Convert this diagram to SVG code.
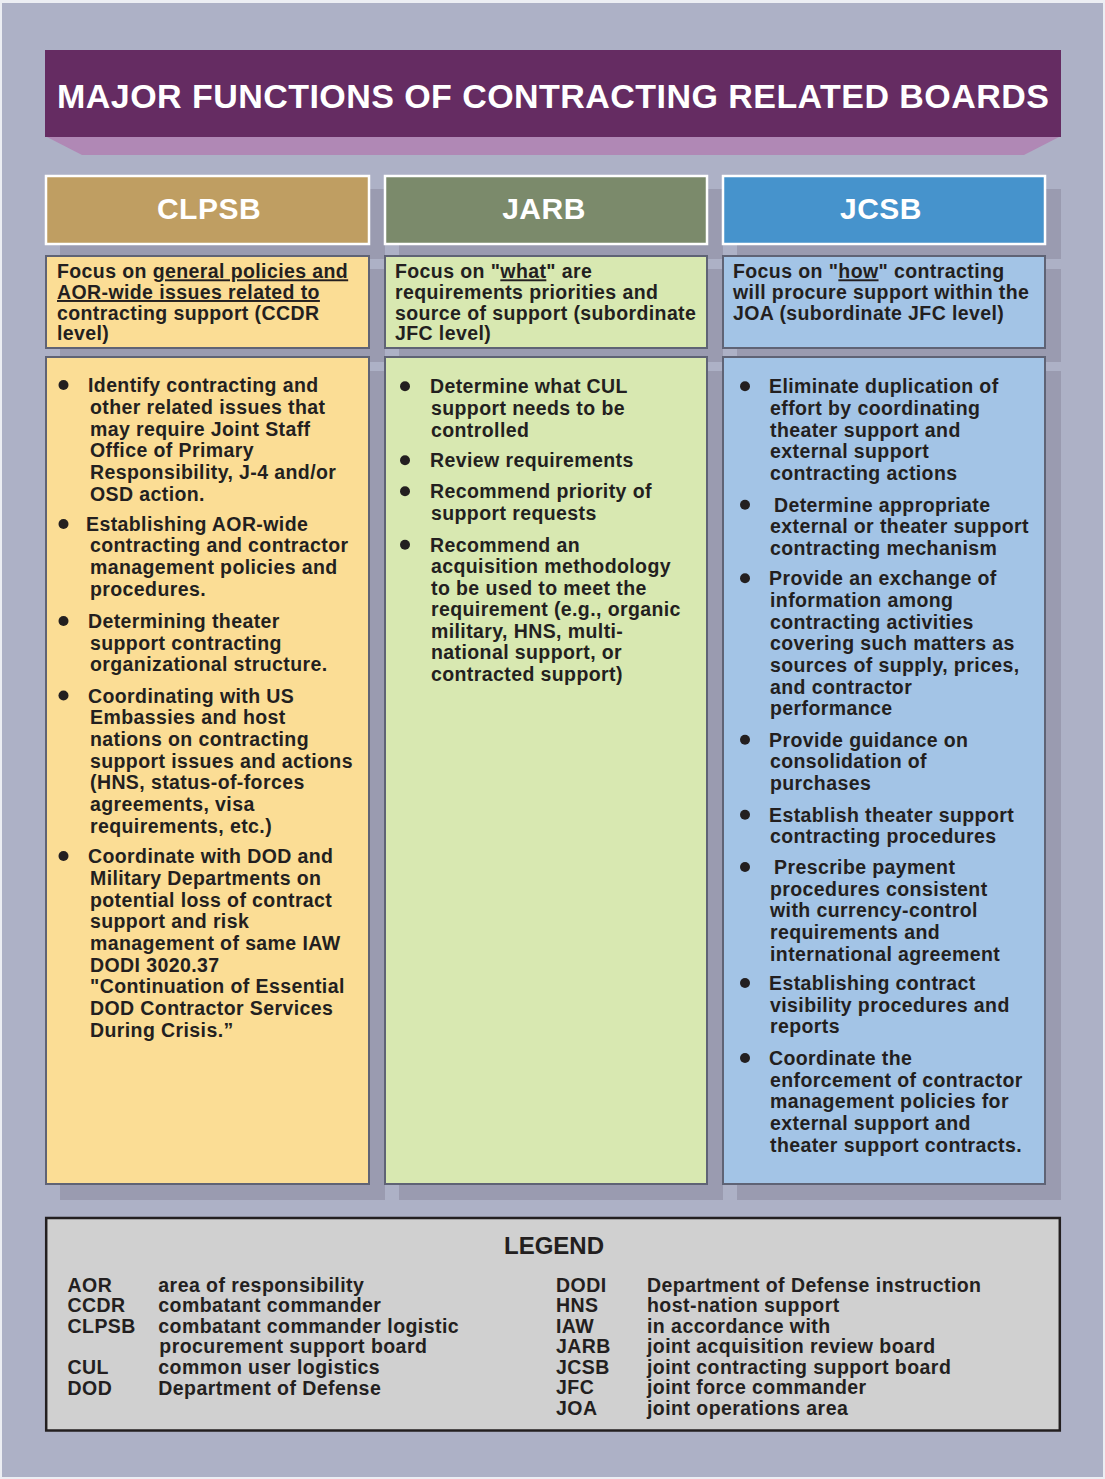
<svg xmlns="http://www.w3.org/2000/svg" width="1105" height="1479" viewBox="0 0 1105 1479">
<style>
text{font-family:"Liberation Sans",Arial,sans-serif;font-weight:bold;fill:#231f20}
.t{font-size:19.5px;letter-spacing:0.4px}
.lg{font-size:19.5px;letter-spacing:0.45px}
.hd{font-size:30px;fill:#fff;text-anchor:middle;letter-spacing:0.5px}
.sh{fill:#9a9bb0}
.bx{stroke:#5f6375;stroke-width:2}
.y{fill:#fbdd95}.g{fill:#d8e8b1}.bl{fill:#a3c4e6}
.b{fill:#231f20}
.u{text-decoration:underline}
</style>
<rect x="0" y="0" width="1105" height="1479" fill="#eceef3"/>
<rect x="2" y="3" width="1101" height="1474" fill="#adb1c6"/>

<g id="title">
<polygon points="45,136 1061,136 1024,155 82,155" fill="#b088b5"/>
<rect x="45" y="50" width="1016" height="87" fill="#652c62"/>
<text x="57" y="107.7" style="font-size:34px;fill:#fff;letter-spacing:0.45px">MAJOR FUNCTIONS OF CONTRACTING RELATED BOARDS</text>
</g>

<g id="shadows">
<rect class="sh" x="60" y="189" width="325" height="70"/>
<rect class="sh" x="399" y="189" width="324" height="70"/>
<rect class="sh" x="737" y="189" width="324" height="70"/>
<rect class="sh" x="60" y="269" width="325" height="93"/>
<rect class="sh" x="399" y="269" width="324" height="93"/>
<rect class="sh" x="737" y="269" width="324" height="93"/>
<rect class="sh" x="60" y="371" width="325" height="829"/>
<rect class="sh" x="399" y="371" width="324" height="829"/>
<rect class="sh" x="737" y="371" width="324" height="829"/>
</g>

<g id="clpsb-header">
<rect x="46" y="176" width="323" height="68" fill="#bf9e62" stroke="#fff" stroke-width="2.5"/>
<text class="hd" x="209" y="218.5">CLPSB</text>
</g>
<g id="jarb-header">
<rect x="385" y="176" width="322" height="68" fill="#7b8a6b" stroke="#fff" stroke-width="2.5"/>
<text class="hd" x="544" y="218.5">JARB</text>
</g>
<g id="jcsb-header">
<rect x="723" y="176" width="322" height="68" fill="#4693cc" stroke="#fff" stroke-width="2.5"/>
<text class="hd" x="881" y="218.5">JCSB</text>
</g>

<g id="clpsb-focus">
<rect class="bx y" x="46" y="256" width="323" height="92"/>
<text class="t"><tspan x="57" y="278.3">Focus on <tspan class="u">general policies and</tspan></tspan><tspan x="57" y="299" class="u">AOR-wide issues related to</tspan><tspan x="57" y="319.7">contracting support (CCDR</tspan><tspan x="57" y="340.4">level)</tspan></text>
</g>
<g id="jarb-focus">
<rect class="bx g" x="385" y="256" width="322" height="92"/>
<text class="t"><tspan x="395" y="278.3">Focus on "<tspan class="u">what</tspan>" are</tspan><tspan x="395" y="299">requirements priorities and</tspan><tspan x="395" y="319.7">source of support (subordinate</tspan><tspan x="395" y="340.4">JFC level)</tspan></text>
</g>
<g id="jcsb-focus">
<rect class="bx bl" x="723" y="256" width="322" height="92"/>
<text class="t"><tspan x="733" y="278.3">Focus on "<tspan class="u">how</tspan>" contracting</tspan><tspan x="733" y="299">will procure support within the</tspan><tspan x="733" y="319.7">JOA (subordinate JFC level)</tspan></text>
</g>

<g id="clpsb-body">
<rect class="bx y" x="46" y="357" width="323" height="827"/>
<circle class="b" cx="63.5" cy="385" r="5"/>
<circle class="b" cx="63.5" cy="524" r="5"/>
<circle class="b" cx="63.5" cy="621" r="5"/>
<circle class="b" cx="63.5" cy="695.5" r="5"/>
<circle class="b" cx="63.5" cy="856" r="5"/>
<text class="t">
<tspan x="88" y="392.3">Identify contracting and</tspan>
<tspan x="90" y="414">other related issues that</tspan>
<tspan x="90" y="435.7">may require Joint Staff</tspan>
<tspan x="90" y="457.4">Office of Primary</tspan>
<tspan x="90" y="479">Responsibility, J-4 and/or</tspan>
<tspan x="90" y="500.7">OSD action.</tspan>
<tspan x="86" y="530.7">Establishing AOR-wide</tspan>
<tspan x="90" y="552.4">contracting and contractor</tspan>
<tspan x="90" y="574">management policies and</tspan>
<tspan x="90" y="595.7">procedures.</tspan>
<tspan x="88" y="628.3">Determining theater</tspan>
<tspan x="90" y="650">support contracting</tspan>
<tspan x="90" y="671.4">organizational structure.</tspan>
<tspan x="88" y="702.7">Coordinating with US</tspan>
<tspan x="90" y="724.4">Embassies and host</tspan>
<tspan x="90" y="746">nations on contracting</tspan>
<tspan x="90" y="767.7">support issues and actions</tspan>
<tspan x="90" y="789.4">(HNS, status-of-forces</tspan>
<tspan x="90" y="811">agreements, visa</tspan>
<tspan x="90" y="832.7">requirements, etc.)</tspan>
<tspan x="88" y="863.3">Coordinate with DOD and</tspan>
<tspan x="90" y="885">Military Departments on</tspan>
<tspan x="90" y="906.7">potential loss of contract</tspan>
<tspan x="90" y="928.4">support and risk</tspan>
<tspan x="90" y="950">management of same IAW</tspan>
<tspan x="90" y="971.7">DODI 3020.37</tspan>
<tspan x="90" y="993.4">"Continuation of Essential</tspan>
<tspan x="90" y="1015">DOD Contractor Services</tspan>
<tspan x="90" y="1036.7">During Crisis.”</tspan>
</text>
</g>

<g id="jarb-body">
<rect class="bx g" x="385" y="357" width="322" height="827"/>
<circle class="b" cx="405" cy="386.3" r="5"/>
<circle class="b" cx="405" cy="460.3" r="5"/>
<circle class="b" cx="405" cy="491.3" r="5"/>
<circle class="b" cx="405" cy="544.7" r="5"/>
<text class="t">
<tspan x="430" y="393.3">Determine what CUL</tspan>
<tspan x="431" y="415">support needs to be</tspan>
<tspan x="431" y="436.7">controlled</tspan>
<tspan x="430" y="467.3">Review requirements</tspan>
<tspan x="430" y="498.3">Recommend priority of</tspan>
<tspan x="431" y="520">support requests</tspan>
<tspan x="430" y="551.7">Recommend an</tspan>
<tspan x="431" y="573.2">acquisition methodology</tspan>
<tspan x="431" y="594.7">to be used to meet the</tspan>
<tspan x="431" y="616.2">requirement (e.g., organic</tspan>
<tspan x="431" y="637.7">military, HNS, multi-</tspan>
<tspan x="431" y="659.2">national support, or</tspan>
<tspan x="431" y="680.7">contracted support)</tspan>
</text>
</g>

<g id="jcsb-body">
<rect class="bx bl" x="723" y="357" width="322" height="827"/>
<circle class="b" cx="745" cy="386.3" r="5"/>
<circle class="b" cx="745" cy="504.7" r="5"/>
<circle class="b" cx="745" cy="578.3" r="5"/>
<circle class="b" cx="745" cy="739.7" r="5"/>
<circle class="b" cx="745" cy="814.7" r="5"/>
<circle class="b" cx="745" cy="867" r="5"/>
<circle class="b" cx="745" cy="983" r="5"/>
<circle class="b" cx="745" cy="1058" r="5"/>
<text class="t">
<tspan x="769" y="393.3">Eliminate duplication of</tspan>
<tspan x="770" y="415">effort by coordinating</tspan>
<tspan x="770" y="436.7">theater support and</tspan>
<tspan x="770" y="458.4">external support</tspan>
<tspan x="770" y="480">contracting actions</tspan>
<tspan x="774" y="511.7">Determine appropriate</tspan>
<tspan x="770" y="533.4">external or theater support</tspan>
<tspan x="770" y="555">contracting mechanism</tspan>
<tspan x="769" y="585.3">Provide an exchange of</tspan>
<tspan x="770" y="607">information among</tspan>
<tspan x="770" y="628.7">contracting activities</tspan>
<tspan x="770" y="650.4">covering such matters as</tspan>
<tspan x="770" y="672">sources of supply, prices,</tspan>
<tspan x="770" y="693.7">and contractor</tspan>
<tspan x="770" y="715.4">performance</tspan>
<tspan x="769" y="746.7">Provide guidance on</tspan>
<tspan x="770" y="768.4">consolidation of</tspan>
<tspan x="770" y="790">purchases</tspan>
<tspan x="769" y="821.7">Establish theater support</tspan>
<tspan x="770" y="843.4">contracting procedures</tspan>
<tspan x="774" y="874">Prescribe payment</tspan>
<tspan x="770" y="895.7">procedures consistent</tspan>
<tspan x="770" y="917.4">with currency-control</tspan>
<tspan x="770" y="939">requirements and</tspan>
<tspan x="770" y="960.7">international agreement</tspan>
<tspan x="769" y="990">Establishing contract</tspan>
<tspan x="770" y="1011.7">visibility procedures and</tspan>
<tspan x="770" y="1033.4">reports</tspan>
<tspan x="769" y="1065">Coordinate the</tspan>
<tspan x="770" y="1086.7">enforcement of contractor</tspan>
<tspan x="770" y="1108.4">management policies for</tspan>
<tspan x="770" y="1130">external support and</tspan>
<tspan x="770" y="1151.7">theater support contracts.</tspan>
</text>
</g>

<g id="legend">
<rect x="46.2" y="1218" width="1013.6" height="212.5" fill="#d0d0d0" stroke="#231f20" stroke-width="2.5"/>
<text x="554" y="1254" style="font-size:24px;text-anchor:middle">LEGEND</text>
<text class="lg">
<tspan x="67.5" y="1291.5">AOR</tspan>
<tspan x="67.5" y="1312">CCDR</tspan>
<tspan x="67.5" y="1332.5">CLPSB</tspan>
<tspan x="67.5" y="1374">CUL</tspan>
<tspan x="67.5" y="1394.5">DOD</tspan>
</text>
<text class="lg">
<tspan x="158.3" y="1291.5">area of responsibility</tspan>
<tspan x="158.3" y="1312">combatant commander</tspan>
<tspan x="158.3" y="1332.5">combatant commander logistic</tspan>
<tspan x="159.3" y="1353">procurement support board</tspan>
<tspan x="158.3" y="1374">common user logistics</tspan>
<tspan x="158.3" y="1394.5">Department of Defense</tspan>
</text>
<text class="lg">
<tspan x="556" y="1291.5">DODI</tspan>
<tspan x="556" y="1312">HNS</tspan>
<tspan x="556" y="1332.5">IAW</tspan>
<tspan x="556" y="1353">JARB</tspan>
<tspan x="556" y="1373.5">JCSB</tspan>
<tspan x="556" y="1394">JFC</tspan>
<tspan x="556" y="1414.5">JOA</tspan>
</text>
<text class="lg">
<tspan x="647" y="1291.5">Department of Defense instruction</tspan>
<tspan x="647" y="1312">host-nation support</tspan>
<tspan x="647" y="1332.5">in accordance with</tspan>
<tspan x="647" y="1353">joint acquisition review board</tspan>
<tspan x="647" y="1373.5">joint contracting support board</tspan>
<tspan x="647" y="1394">joint force commander</tspan>
<tspan x="647" y="1414.5">joint operations area</tspan>
</text>
</g>

<g id="connectors"/>
</svg>
